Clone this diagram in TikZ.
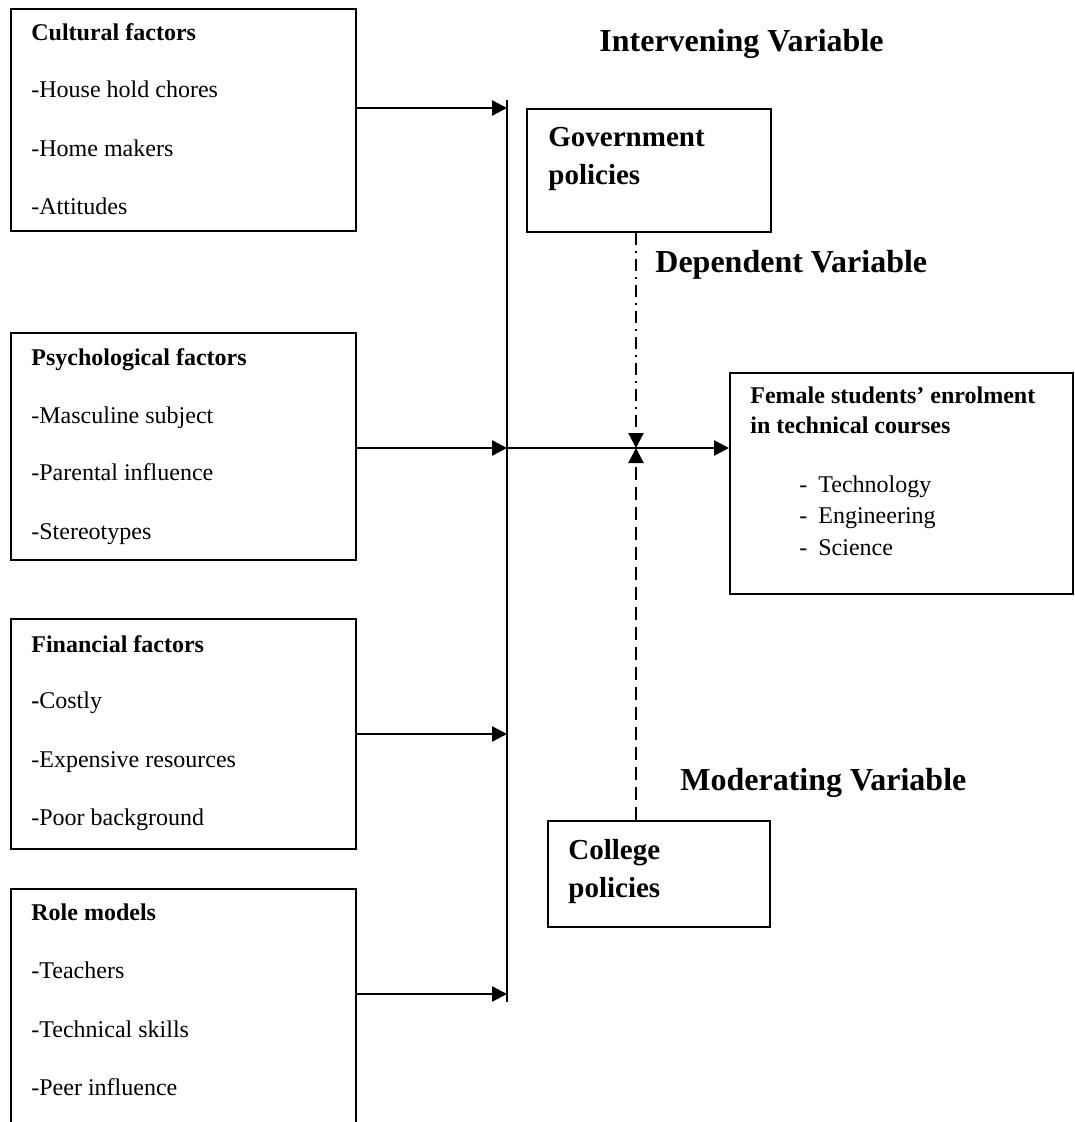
\documentclass[tikz,border=0pt]{standalone}
\usepackage{fontspec}
\setmainfont{Liberation Serif}
\usetikzlibrary{arrows.meta}
\begin{document}
\begin{tikzpicture}[x=0.5pt,y=-0.5pt,
 box/.style={draw,line width=1pt,inner sep=0,anchor=north west},
 txt/.style={inner sep=0,anchor=base west,font=\fontsize{12}{14}\selectfont},
 hd/.style={inner sep=0,anchor=base west,font=\fontsize{12}{14}\selectfont\bfseries},
 big/.style={inner sep=0,anchor=base west,font=\fontsize{16}{19}\selectfont\bfseries},
 pol/.style={inner sep=0,anchor=base west,font=\fontsize{14.5}{17}\selectfont\bfseries},
 arr/.style={line width=1.2pt,-{Triangle[length=7.5pt,width=7.5pt]}},
 dashdotline/.style={line width=1pt,dash pattern=on 6pt off 3pt on 1pt off 3pt},
 dashline/.style={line width=1pt,dash pattern=on 6.5pt off 3.5pt},
]
\useasboundingbox (0,0) rectangle (1074,1122);
\clip (0,0) rectangle (1074,1122);

% left boxes
\node[box,minimum width=172.5pt,minimum height=111pt] (cult) at (10,8) {};
\node[hd]  (c0) at (31,41)  {Cultural factors};
\node[txt] (c1) at (31,98)  {-House hold chores};
\node[txt] (c2) at (31,157) {-Home makers};
\node[txt] (c3) at (31,215) {-Attitudes};

\node[box,minimum width=172.5pt,minimum height=113.5pt] (psy) at (10,332) {};
\node[hd]  (p0) at (31,365) {Psychological factors};
\node[txt] (p1) at (31,423) {-Masculine subject};
\node[txt] (p2) at (31,480) {-Parental influence};
\node[txt] (p3) at (31,539) {-Stereotypes};

\node[box,minimum width=172.5pt,minimum height=115pt] (fin) at (10,618) {};
\node[hd]  (f0) at (31,652) {Financial factors};
\node[txt] (f1) at (31,708) {\textbf{-}Costly};
\node[txt] (f2) at (31,767) {-Expensive resources};
\node[txt] (f3) at (31,825) {-Poor background};

\node[box,minimum width=172.5pt,minimum height=130pt] (role) at (10,888) {};
\node[hd]  (r0) at (31,920)  {Role models};
\node[txt] (r1) at (31,978)  {-Teachers};
\node[txt] (r2) at (31,1037) {-Technical skills};
\node[txt] (r3) at (31,1095) {-Peer influence};

% collector line
\coordinate (vtop) at (507,100);
\coordinate (vbot) at (507,1002);
\draw[line width=1pt] (vtop) -- (vbot);
\coordinate (j1) at (507,108);
\coordinate (j2) at (507,448);
\coordinate (j3) at (507,734);
\coordinate (j4) at (507,994);
\draw[arr] (cult.east |- j1) -- (j1);
\draw[arr] (psy.east |- j2) -- (j2);
\draw[arr] (fin.east |- j3) -- (j3);
\draw[arr] (role.east |- j4) -- (j4);

% headings
\node[big] (iv) at (599,52)  {Intervening Variable};
\node[big] (dv) at (655,273) {Dependent Variable};
\node[big] (mv) at (680,790) {Moderating Variable};

% government policies
\node[box,minimum width=122pt,minimum height=61.5pt] (gov) at (526,108) {};
\node[pol] (g1) at (548,147) {Government};
\node[pol] (g2) at (548,185) {policies};

% college policies
\node[box,minimum width=111pt,minimum height=53pt] (coll) at (547,820) {};
\node[pol] (k1) at (568,859) {College};
\node[pol] (k2) at (568,897) {policies};

% female students box
\node[box,minimum width=171.5pt,minimum height=110.5pt] (fem) at (729,372) {};
\node[hd]  (e0) at (750,403) {Female students’ enrolment};
\node[hd]  (e1) at (750,433) {in technical courses};
\node[txt] (e2) at (799,492) {-\hspace{5.5pt}Technology};
\node[txt] (e3) at (799,523) {-\hspace{5.5pt}Engineering};
\node[txt] (e4) at (799,555) {-\hspace{5.5pt}Science};

% main arrow and moderating arrows
\coordinate (cross) at (636,448);
\draw[arr] (j2) -- (fem.west |- j2);
\draw[dashdotline,arr] (gov.south -| cross) -- (cross);
\draw[dashline,arr] (coll.north -| cross) -- (cross);
\end{tikzpicture}
\end{document}
